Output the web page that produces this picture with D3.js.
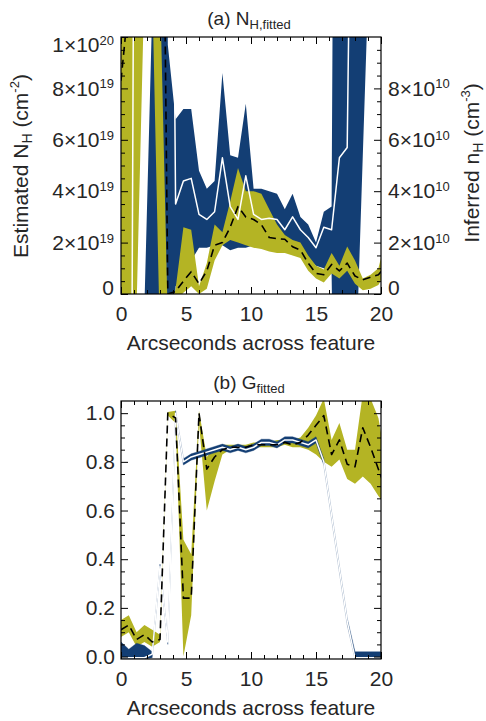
<!DOCTYPE html>
<html>
<head>
<meta charset="utf-8">
<script src="https://cdn.jsdelivr.net/npm/d3@7"></script>
<style>
  body { margin: 0; background: #fff; }
  svg text { font-family: "Liberation Sans", Arial, Helvetica, sans-serif; fill: #262626; }
</style>
</head>
<body>
<svg></svg>
<script>
// sample positions across the feature (arcsec)
let xPos = [0, 0.6, 1.2, 1.8, 2.4, 3.0, 3.6, 4.2, 4.8, 5.4, 6.0, 6.6, 7.2, 7.8, 8.4, 9.0, 9.6, 10.2, 10.8, 11.4,
            12.0, 12.6, 13.2, 13.8, 14.4, 15.0, 15.6, 16.2, 16.8, 17.4, 18.0, 18.6, 19.2, 19.8, 20.4]

// panel (a): N_H in units of 1e19 cm^-2 (values far off the axis are clipped)
let nhBlueLo  = [-5, -5, -5, -5, -5, -5, -5, 0.3, 0.8, 1.3, 1.8, 1.8, 1.9, 1.9, 1.7, 1.8, 1.8, 1.9, 1.9, 1.9,
                 1.9, 1.8, 1.8, 1.7, 1.4, 1.1, 1.0, 0.8, -20, -20, -3.9, 5.4, 14.6, 60, 60]
let nhBlueHi  = [-1, -1, -1, -0.5, 11, 60, 9.7, 6.8, 7.2, 7.2, 4.8, 4.1, 4.4, 8.6, 5.4, 5.3, 7.4, 4.1, 4.1, 4.0,
                 3.9, 3.3, 3.9, 3.0, 2.7, 2.0, 3.2, 3.4, 60, 60, 60, 60, 60, 70, 70]
let nhWhite   = [-30, -30, 40, 40, 40, 40, 40, 3.5, 4.4, 4.5, 3.1, 2.9, 3.2, 5.3, 3.4, 2.9, 4.6, 3.1, 2.9, 2.95,
                 2.9, 2.5, 3.0, 2.5, 2.2, 1.8, 2.6, 2.5, 5.3, 5.7, 30, 30, 30, 30, 30]
let nhOliveLo = [-0.5, -0.5, -0.5, 12, 12, -2, -3, -0.3, 0.05, 0.3, 0.0, 0.2, 1.3, 1.9, 2.1, 2.0, 1.9, 1.8, 1.75, 1.65,
                 1.6, 1.6, 1.5, 1.4, 0.9, 0.6, 0.45, 0.8, 0.6, 0.9, 0.4, 0.15, 0.2, 0.35, 0.9]
let nhOliveHi = [50, 50, 50, 60, 60, 12, -1, 0.2, 2.6, 2.5, 0.3, 1.2, 2.7, 2.4, 3.6, 4.9, 4.0, 4.0, 3.9, 3.3,
                 2.7, 2.3, 2.1, 2.0, 1.5, 1.1, 0.95, 1.6, 1.1, 1.85, 1.3, 0.6, 0.75, 1.0, 2.2]
let nhDash    = [8.3, 11.4, 30, 30, 30, 30, 0, 0.1, 0.5, 0.87, 0.4, 0.9, 1.9, 2.0, 2.6, 3.4, 3.0, 2.9, 2.7, 2.2,
                 2.15, 2.13, 1.84, 1.71, 1.2, 0.8, 0.75, 1.15, 0.9, 1.2, 0.7, 0.55, 0.65, 0.75, 1.1]

// panel (b): G
let gBlueLo  = [-0.01, -0.01, -0.01, -0.01, -0.005, 0.36, 0.05, 0.99, 0.787, 0.807, 0.817, 0.827, 0.837, 0.847, 0.837,
                0.847, 0.837, 0.847, 0.867, 0.867, 0.857, 0.877, 0.877, 0.867, 0.857, 0.877, 0.787, 0.567, 0.347, 0.132,
                -0.01, -0.01, -0.01, -0.01, -0.01]
let gBlueHi  = [0.06, 0.03, 0.055, 0.045, 0.02, 0.38, 0.07, 1.01, 0.813, 0.833, 0.843, 0.853, 0.863, 0.873, 0.863,
                0.873, 0.863, 0.873, 0.893, 0.893, 0.883, 0.903, 0.903, 0.893, 0.883, 0.903, 0.813, 0.593, 0.373, 0.158,
                0.02, 0.02, 0.02, 0.02, 0.02]
let gWhite   = [-0.005, -0.005, -0.005, -0.005, 0.01, 0.37, 0.06, 1.0, 0.80, 0.82, 0.83, 0.84, 0.85, 0.86, 0.85,
                0.86, 0.85, 0.86, 0.88, 0.88, 0.87, 0.89, 0.89, 0.88, 0.87, 0.89, 0.80, 0.58, 0.36, 0.145,
                -0.005, -0.005, -0.005, -0.005, -0.005]
let gOliveLo = [0.08, 0.10, 0.04, 0.06, 0.04, 0.06, 0.99, 0.96, 0.0, 0.17, 0.96, 0.60, 0.72, 0.83, 0.85,
                0.85, 0.85, 0.86, 0.86, 0.86, 0.86, 0.87, 0.86, 0.86, 0.85, 0.83, 0.80, 0.78, 0.81, 0.73,
                0.71, 0.74, 0.71, 0.66, 0.62]
let gOliveHi = [0.15, 0.17, 0.10, 0.13, 0.11, 0.09, 1.005, 1.01, 0.48, 0.42, 1.01, 0.82, 0.86, 0.87, 0.87,
                0.87, 0.87, 0.88, 0.88, 0.88, 0.89, 0.89, 0.89, 0.90, 0.94, 0.99, 1.06, 0.89, 0.96, 0.85,
                0.85, 1.08, 1.06, 0.98, 0.80]
let gDash    = [0.11, 0.13, 0.07, 0.09, 0.06, 0.07, 1.00, 0.98, 0.24, 0.24, 1.00, 0.77, 0.82, 0.85, 0.86,
                0.86, 0.86, 0.87, 0.87, 0.87, 0.87, 0.88, 0.87, 0.88, 0.91, 0.95, 0.99, 0.83, 0.89, 0.79,
                0.78, 0.94, 0.86, 0.77, 0.68]

// tick values
let xTicks = [0, 5, 10, 15, 20]
let xMinor = [1, 2, 3, 4, 6, 7, 8, 9, 11, 12, 13, 14, 16, 17, 18, 19]
let nhTicks = [0, 2, 4, 6, 8, 10]          // x 1e19
let nhMinor = [0.5, 1, 1.5, 2.5, 3, 3.5, 4.5, 5, 5.5, 6.5, 7, 7.5, 8.5, 9, 9.5]
let nTicks = [0, 2, 4, 6, 8]               // x 1e10 (right axis)
let gTicks = [0, 0.2, 0.4, 0.6, 0.8, 1.0]
let gMinor = [0.05, 0.1, 0.15, 0.25, 0.3, 0.35, 0.45, 0.5, 0.55, 0.65, 0.7, 0.75, 0.85, 0.9, 0.95]

let width = 486
let height = 721
let left = 121
let right = 381
let navy = "#133e74"
let olive = "#b4b424"

let svg = d3.select("svg").attr("width", width).attr("height", height)

let xA = d3.scaleLinear().domain([0, 20]).range([left, right])
let yA = d3.scaleLinear().domain([0, 10]).range([294, 37])
let y2A = d3.scaleLinear().domain([0, 10]).range([294, 37])
let xB = d3.scaleLinear().domain([0, 20]).range([left, right])
let yB = d3.scaleLinear().domain([-0.01, 1.05]).range([659, 401])

let clip = function(id, top, bottom) {
  svg.append("clipPath").attr("id", id)
     .append("rect").attr("x", left).attr("y", top).attr("width", right - left).attr("height", bottom - top)
  return svg.append("g").attr("clip-path", "url(#" + id + ")")
}

// filled range between lo and hi; an optional thin edge keeps steep parts visible
let band = function(g, xs, ys, lo, hi, color, edge) {
  let rows = xPos.map((x, i) => ({ x: x, lo: lo[i], hi: hi[i] }))
  let p = g.append("path").datum(rows).attr("fill", color)
   .attr("d", d3.area().x(d => xs(d.x)).y0(d => ys(d.lo)).y1(d => ys(d.hi)))
  if (edge) p.attr("stroke", color).attr("stroke-width", edge).attr("stroke-opacity", 0.45)
}

let line = function(g, xs, ys, vals, color, w, dash) {
  let rows = xPos.map((x, i) => ({ x: x, v: vals[i] }))
  g.append("path").datum(rows).attr("fill", "none").attr("stroke", color).attr("stroke-width", w)
   .attr("stroke-dasharray", dash).attr("stroke-linejoin", "round")
   .attr("d", d3.line().x(d => xs(d.x)).y(d => ys(d.v)))
}

// labels like 2x10^19 with a raised exponent
let sciLabels = function(g, fn) {
  g.selectAll(".tick text").each(function(d) {
    let p = fn(d)
    let t = d3.select(this).text(p[0])
    if (p[1]) t.append("tspan").attr("dy", "-0.55em").attr("font-size", 13).text(p[1])
  })
}

let styleAxis = function(g) {
  g.attr("font-size", 21).attr("font-family", null).attr("color", "#000")
  g.select(".domain").remove()
  g.selectAll(".tick line").attr("stroke-width", 1)
}

let xAxes = function(xs, top, bottom) {
  let b = svg.append("g").attr("transform", "translate(0," + bottom + ")")
     .call(d3.axisBottom(xs).tickValues(xTicks).tickSizeInner(-7).tickSizeOuter(0).tickPadding(12).tickFormat(d3.format("d")))
  styleAxis(b)
  styleAxis(svg.append("g").attr("transform", "translate(0," + bottom + ")")
     .call(d3.axisBottom(xs).tickValues(xMinor).tickSizeInner(-4).tickSizeOuter(0).tickFormat("")))
  styleAxis(svg.append("g").attr("transform", "translate(0," + top + ")")
     .call(d3.axisTop(xs).tickValues(xTicks).tickSizeInner(-7).tickSizeOuter(0).tickFormat("")))
  styleAxis(svg.append("g").attr("transform", "translate(0," + top + ")")
     .call(d3.axisTop(xs).tickValues(xMinor).tickSizeInner(-4).tickSizeOuter(0).tickFormat("")))
}

let frame = function(top, bottom) {
  svg.append("rect").attr("x", left).attr("y", top).attr("width", right - left).attr("height", bottom - top)
     .attr("fill", "none").attr("stroke", "#000").attr("stroke-width", 1.2)
}

// end labels sit a little inside the frame, as in the original
let nudgeEnds = function(g, lowVal, highVal) {
  g.selectAll(".tick text").filter(d => d === lowVal).attr("y", -6)
  g.selectAll(".tick text").filter(d => d === highVal).attr("y", 8)
}

// ---------- panel (a) ----------
let gA = clip("clipA", 37, 294)
band(gA, xA, yA, nhBlueLo, nhBlueHi, navy)
band(gA, xA, yA, nhOliveLo, nhOliveHi, olive)
line(gA, xA, yA, nhWhite, "#fff", 1.5, null)
line(gA, xA, yA, nhDash, "#000", 1.6, "8,5")

xAxes(xA, 37, 294)
let la = svg.append("g").attr("transform", "translate(" + left + ",0)")
   .call(d3.axisLeft(yA).tickValues(nhTicks).tickSizeInner(-7).tickSizeOuter(0).tickPadding(7))
styleAxis(la)
sciLabels(la, d => d === 0 ? ["0"] : d === 10 ? ["1\u00d710", "20"] : [d + "\u00d710", "19"])
nudgeEnds(la, 0, 10)
styleAxis(svg.append("g").attr("transform", "translate(" + left + ",0)")
   .call(d3.axisLeft(yA).tickValues(nhMinor).tickSizeInner(-4).tickSizeOuter(0).tickFormat("")))
let ra = svg.append("g").attr("transform", "translate(" + right + ",0)")
   .call(d3.axisRight(y2A).tickValues(nTicks).tickSizeInner(-7).tickSizeOuter(0).tickPadding(7))
styleAxis(ra)
sciLabels(ra, d => d === 0 ? ["0"] : [d + "\u00d710", "10"])
nudgeEnds(ra, 0, 10)
styleAxis(svg.append("g").attr("transform", "translate(" + right + ",0)")
   .call(d3.axisRight(y2A).tickValues(nhMinor).tickSizeInner(-4).tickSizeOuter(0).tickFormat("")))
frame(37, 294)

// ---------- panel (b) ----------
let gB = clip("clipB", 401, 659)
band(gB, xB, yB, gOliveLo, gOliveHi, olive)
band(gB, xB, yB, gBlueLo, gBlueHi, navy, 0.8)
line(gB, xB, yB, gWhite, "#fff", 1.5, null)
line(gB, xB, yB, gDash, "#000", 1.6, "8,5")

xAxes(xB, 401, 659)
let lb = svg.append("g").attr("transform", "translate(" + left + ",0)")
   .call(d3.axisLeft(yB).tickValues(gTicks).tickSizeInner(-7).tickSizeOuter(0).tickPadding(6).tickFormat(d3.format(".1f")))
styleAxis(lb)
styleAxis(svg.append("g").attr("transform", "translate(" + left + ",0)")
   .call(d3.axisLeft(yB).tickValues(gMinor).tickSizeInner(-4).tickSizeOuter(0).tickFormat("")))
styleAxis(svg.append("g").attr("transform", "translate(" + right + ",0)")
   .call(d3.axisRight(yB).tickValues(gTicks).tickSizeInner(-7).tickSizeOuter(0).tickFormat("")))
styleAxis(svg.append("g").attr("transform", "translate(" + right + ",0)")
   .call(d3.axisRight(yB).tickValues(gMinor).tickSizeInner(-4).tickSizeOuter(0).tickFormat("")))
frame(401, 659)

// ---------- titles ----------
let title = function(x, y, main, sub) {
  let t = svg.append("text").attr("x", x).attr("y", y).attr("text-anchor", "middle").attr("font-size", 19).text(main)
  t.append("tspan").attr("dy", 4).attr("font-size", 13).text(sub)
}
title(249, 25, "(a) N", "H,fitted")
title(249, 389, "(b) G", "fitted")

svg.append("text").attr("x", 251).attr("y", 350).attr("text-anchor", "middle").attr("font-size", 21)
   .text("Arcseconds across feature")
svg.append("text").attr("x", 251).attr("y", 715).attr("text-anchor", "middle").attr("font-size", 21)
   .text("Arcseconds across feature")

let vTitle = function(x, y, a, sub, sup) {
  let t = svg.append("text").attr("transform", "translate(" + x + "," + y + ") rotate(-90)")
     .attr("text-anchor", "middle").attr("font-size", 21).text(a)
  t.append("tspan").attr("dy", 4).attr("font-size", 14).text(sub)
  t.append("tspan").attr("dy", -4).text(" (cm")
  t.append("tspan").attr("dy", -9).attr("font-size", 13).text(sup)
  t.append("tspan").attr("dy", 9).text(")")
}
vTitle(28, 166, "Estimated N", "H", "-2")
vTitle(479, 163, "Inferred n", "H", "-3")
</script>
</body>
</html>
